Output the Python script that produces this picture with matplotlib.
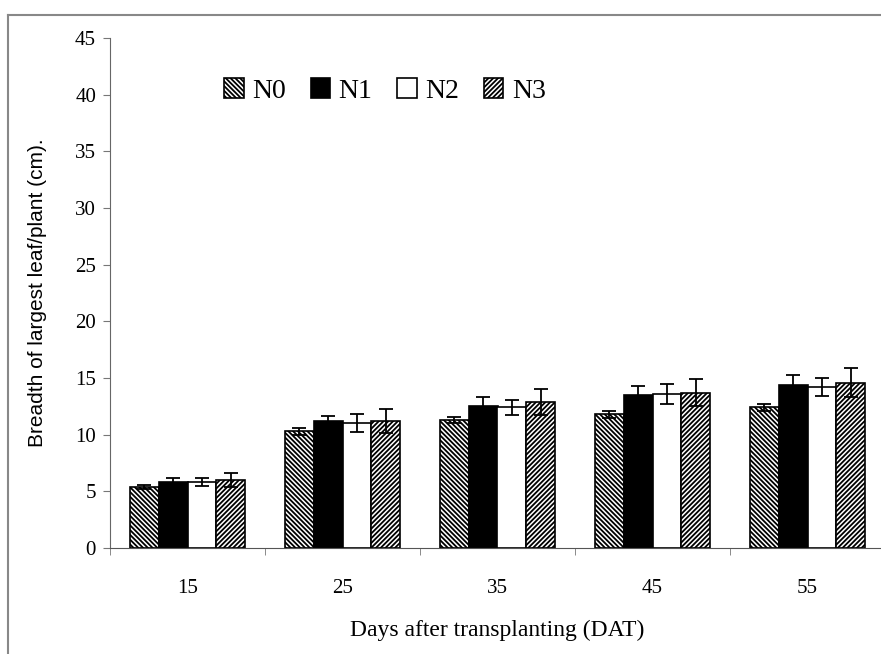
import numpy as np
import matplotlib.pyplot as plt
from matplotlib.lines import Line2D

plt.rcParams['hatch.linewidth'] = 1.3

days = ['15', '25', '35', '45', '55']
series = ['N0', 'N1', 'N2', 'N3']

n0 = [5.4, 10.3, 11.3, 11.8, 12.4]
n1 = [5.8, 11.2, 12.5, 13.5, 14.4]
n2 = [5.8, 11.0, 12.4, 13.6, 14.2]
n3 = [6.0, 11.2, 12.9, 13.7, 14.6]

n0_err = [0.15, 0.3, 0.3, 0.3, 0.35]
n1_err = [0.4, 0.45, 0.85, 0.8, 0.9]
n2_err = [0.35, 0.8, 0.65, 0.9, 0.8]
n3_err = [0.6, 1.05, 1.15, 1.2, 1.3]

values = [n0, n1, n2, n3]
errors = [n0_err, n1_err, n2_err, n3_err]
faces = ['white', 'black', 'white', 'white']
hatches = ['\\' * 7, None, None, '/' * 7]

fig = plt.figure(figsize=(8.81, 6.54), dpi=100)
ax = fig.add_axes([110/881, 1 - 548/654, 775/881, 510/654])

x = np.arange(len(days))
w = 0.185
for i in range(4):
    pos = x + (i - 1.5) * w
    ax.bar(pos, values[i], w, color=faces[i], edgecolor='black',
           hatch=hatches[i], linewidth=1.2, label=series[i], zorder=2)
    ax.errorbar(pos, values[i], yerr=errors[i], fmt='none', ecolor='black',
                elinewidth=1.3, capsize=5, capthick=1.3, zorder=3)

ax.set_xlim(-0.5, 4.5)
ax.set_ylim(0, 45)
ax.set_yticks(range(0, 46, 5))
ax.set_xticks(x)
ax.set_xticklabels(days)
ax.set_xticks(np.arange(-0.5, 5.0, 1), minor=True)

for s in ['top', 'right']:
    ax.spines[s].set_visible(False)
ax.spines['left'].set_color('#666666')
ax.spines['bottom'].set_color('#555555')

ax.tick_params(axis='x', which='major', length=0, pad=22)
ax.tick_params(axis='x', which='minor', length=5, color='#777777')
ax.tick_params(axis='y', length=5, color='#777777', pad=5)
for lab in ax.get_xticklabels() + ax.get_yticklabels():
    lab.set_family('Liberation Serif')
    lab.set_fontsize(15)

ax.set_xlabel('Days after transplanting (DAT)', family='Liberation Serif',
              fontsize=17, labelpad=16)
ax.set_ylabel('Breadth of largest leaf/plant (cm).', family='Liberation Sans',
              fontsize=15, labelpad=20)

leg = ax.legend(loc='upper left', bbox_to_anchor=(0.115, 0.97), ncol=4,
                frameon=False, handlelength=0.7, handleheight=0.7,
                handletextpad=0.3, columnspacing=0.9,
                prop={'family': 'Liberation Serif', 'size': 20})

# outer frame around the figure
fig.add_artist(Line2D([8/881, 8/881], [0, 1 - 15/654], color='#888888', lw=1.5))
fig.add_artist(Line2D([8/881, 1], [1 - 15/654, 1 - 15/654], color='#888888', lw=1.5))

fig.savefig('out.png', dpi=100)
